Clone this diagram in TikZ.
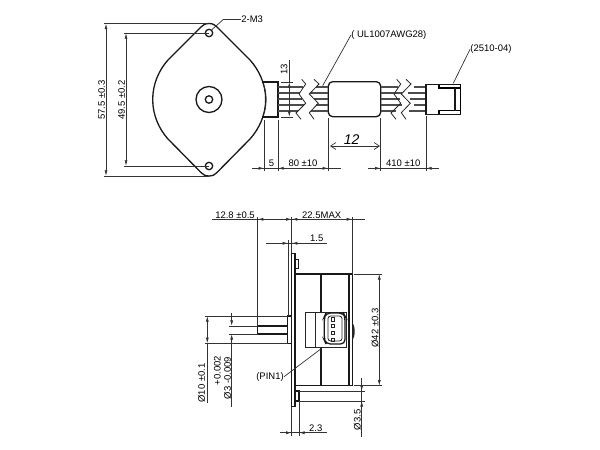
\documentclass[tikz,border=0pt]{standalone}
\usepackage{fontspec}
\usetikzlibrary{arrows.meta}
\setmainfont{Liberation Sans}
\tikzset{
	part/.style={line width=0.75pt,black!90},
	thin part/.style={line width=0.45pt,black!85},
	wire/.style={line width=0.8pt,black!70},
	dimline/.style={line width=0.4pt,black!80},
	dimarrow/.style={dimline,>={Latex[length=3.2pt,width=1.7pt]},<->},
	dimarrowin/.style={dimline,>={Latex[length=3.2pt,width=1.7pt]},->},
	dimtext/.style={font=\fontsize{5.4}{6}\selectfont,inner sep=0pt,text=black},
	dimtextv/.style={dimtext,rotate=90}
}
\begin{document}
\begin{tikzpicture}[x=0.02cm,y=-0.02cm]
	\useasboundingbox (0,0) rectangle (600,450);
	\fill[white] (0,0) rectangle (600,450);
	% front view
	\coordinate (C) at (209,99.5);
	\coordinate (H1) at (209,33);
	\coordinate (H2) at (209,166);
	\draw[part] (209,23.5) .. controls (213,23.5) and (215,25) .. (217,27) -- (250,60)
		.. controls (259,70) and (265.7,84) .. (265.7,99.5) .. controls (265.7,115) and (259,129) .. (250,139)
		-- (217,172.5) .. controls (215,174.5) and (213,176) .. (209,176) .. controls (205,176) and (203,174.5) .. (201,172.5)
		-- (168,139) .. controls (159,129) and (152.7,115) .. (152.7,99.5) .. controls (152.7,84) and (159,70) .. (168,60)
		-- (201,27) .. controls (203,25) and (205,23.5) .. (209,23.5);
	\foreach \point in {C,H1,H2} \draw[part] (\point) circle (3.7);
	\draw[part] (C) circle (13);
	\draw[thin part] (263,83) .. controls (267,93) and (267,106) .. (263,116);
	% wires and connector
	\draw[part] (262.5,82) -- (278,82) -- (278,117) -- (262.5,117);
	\draw[part,rounded corners=2.5pt] (328.3,81.7) rectangle (380.7,116.7);
	\foreach \y/\a/\b/\c/\d in {87/303.5/316/398/414, 93/300/310.5/402/408, 99/302.5/314/400/410, 105/304/316/402.5/414.5, 111/298/311/396/409}{
		\draw[wire] (278,\y) -- (\a,\y);
		\draw[wire] (\b,\y) -- (328.3,\y);
		\draw[wire] (380.7,\y) -- (\c,\y);
		\draw[wire] (\d,\y) -- (426,\y);
	}
	\foreach \dx/\dxx in {0/0,95/92}{
		\draw[thin part] (301.7+\dx,79.3) -- (305.7+\dx,84) -- (299+\dx,94) -- (305.7+\dx,103.3) -- (296+\dx,113) -- (301+\dx,119.3);
		\draw[thin part] (314+\dxx,79.3) -- (319+\dxx,84) -- (309.3+\dxx,94) -- (318.3+\dxx,103.3) -- (309.3+\dxx,112.7) -- (314+\dxx,119.3);
	}
	\draw[part] (426,84.3) rectangle (460.5,114.3);
	\draw[line width=1pt] (460.5,84.3) -- (460.5,114.3);
	\draw[line width=1pt] (439,84.5) -- (439,88) -- (460,88) (439,114) -- (439,110.5) -- (460,110.5);
	\draw[part] (455,88) -- (455,110.5);
	% front view dimensions
	\draw[dimline] (104,23.5) -- (209,23.5) (104,176) -- (209,176);
	\draw[dimline] (124,33) -- (209,33) (124,166) -- (209,166);
	\draw[dimarrow] (106,23.5) -- (106,176);
	\draw[dimarrow] (126,33) -- (126,166);
	\node[dimtextv] (t575) at (101.5,100) {57.5 ±0.3};
	\node[dimtextv] (t495) at (121.5,100) {49.5 ±0.2};
	\node[dimtext,anchor=west] (tm3) at (241,19.5) {2-M3};
	\draw[dimline] (211.5,30) -- (223.3,19.5) -- (tm3.west);
	\draw[dimline] (281,82) -- (293,82) (281,117) -- (293,117);
	\draw[dimarrow] (289.3,82) -- (289.3,117);
	\draw[dimline] (289.3,60) -- (289.3,82);
	\node[dimtextv] (t13) at (284,69) {13};
	\foreach \x/\y in {264.3/120,278/120,328.3/118,380.7/118,426/116}
		\draw[dimline] (\x,\y) -- (\x,171);
	\draw[dimline] (252,168.3) -- (341,168.3) (368,168.3) -- (439,168.3);
	\draw[dimarrowin] (254,168.3) -- (264.3,168.3);
	\draw[dimarrowin] (290,168.3) -- (278,168.3);
	\draw[dimarrowin] (316,168.3) -- (328.3,168.3);
	\draw[dimarrowin] (370,168.3) -- (380.7,168.3);
	\draw[dimarrowin] (438,168.3) -- (426,168.3);
	\node[dimtext] (t5) at (271.5,163) {5};
	\node[dimtext] (t80) at (303,163) {80 ±10};
	\node[dimtext] (t410) at (403.3,163) {410 ±10};
	\draw[dimline,<->,>={Straight Barb[length=3pt,width=4pt]}] (330,146) -- (380,146);
	\node[dimtext,font=\fontsize{8}{10}\itshape\selectfont] (t12) at (351.7,140) {12};
	\node[dimtext,anchor=west] (tul) at (351,35) {( UL1007AWG28)};
	\draw[dimline] (tul.west) -- (322.7,85.7);
	\node[dimtext,anchor=west] (t2510) at (470,49.3) {(2510-04)};
	\draw[dimline] (t2510.west) -- (453.3,83.3);
	% side view
	\draw[part,fill=white] (291.7,253.3) rectangle (295,406.7);
	\draw[part] (295,274) rectangle (352.3,385.7);
	\draw[part] (349,274) -- (349,385.7);
	\draw[part] (321,274) -- (321,312.3) (321,347.3) -- (321,385.7);
	\draw[part] (295,259.3) -| (298.5,268.3) -- (295,268.3);
	\draw[part] (295,391) -| (299,401) -- (295,401);
	\fill[black!85] (352.3,322.7) .. controls (355.5,326) and (355.5,337) .. (352.3,340) -- cycle;
	\draw[thin part] (305.7,312.3) rectangle (346,347.3);
	\draw[thin part] (315,312.3) -- (315,347.3);
	\draw[part,rounded corners=2.5pt,fill=white] (326,313) -- (343.5,313) -- (345,316) -- (345,344) -- (326,344) -- (324.3,340) -- (324.3,317) -- cycle;
	\draw[thin part,rounded corners=1.5pt] (328,316) rectangle (342,341);
	\foreach \y in {319.3,326,332.7,340} \draw[thin part] (331,\y-1.7) rectangle (334.5,\y+1.7);
	\draw[part] (287.7,316) rectangle (291.7,343.3);
	\draw[part] (287.7,326) -- (257.7,326) -- (257.7,334) -- (287.7,334);
	% side view dimensions
	\draw[dimline] (229.3,326) -- (257.7,326) (229.3,334) -- (257.7,334);
	\draw[dimline] (205,316) -- (287.7,316) (205,343.3) -- (287.7,343.3);
	\draw[dimline] (207.3,343.3) -- (207.3,403);
	\draw[dimarrow] (207.3,316) -- (207.3,343.3);
	\draw[dimarrowin] (231.7,313) -- (231.7,326);
	\draw[dimarrowin] (231.7,406.7) -- (231.7,334);
	\node[dimtextv] (t10) at (201.7,383) {Ø10 ±0.1};
	\node[dimtextv] (t002) at (217.3,370.7) {+0.002};
	\node[dimtextv] (t009) at (227.5,378) {Ø3 -0.009};
	\draw[dimline] (257.7,217) -- (257.7,326);
	\draw[dimline] (291.7,217) -- (291.7,253.3) (352.3,217) -- (352.3,274);
	\draw[dimline] (288.3,240) -- (288.3,316);
	\draw[dimline] (211.7,219.3) -- (365,219.3);
	\draw[dimarrow] (257.7,219.3) -- (291.7,219.3);
	\draw[dimarrow] (291.7,219.3) -- (352.3,219.3);
	\node[dimtext] (t128) at (235,215) {12.8 ±0.5};
	\node[dimtext] (t225) at (321.7,215) {22.5MAX};
	\draw[dimline] (266,243.3) -- (326.7,243.3);
	\draw[dimarrowin] (276,243.3) -- (288.3,243.3);
	\draw[dimarrowin] (303,243.3) -- (291.7,243.3);
	\node[dimtext] (t15) at (316.7,238) {1.5};
	\draw[dimline] (354,274) -- (382,274) (354,385.7) -- (382,385.7);
	\draw[dimarrow] (379.3,274) -- (379.3,385.7);
	\node[dimtextv] (t42) at (375,328) {Ø42 ±0.3};
	\draw[dimline] (299,391) -- (365,391) (299,401) -- (365,401);
	\draw[dimline] (361.7,378) -- (361.7,436.7);
	\draw[dimarrowin] (361.7,380) -- (361.7,391);
	\draw[dimarrowin] (361.7,412) -- (361.7,401);
	\node[dimtextv] (t35) at (357.3,420) {Ø3.5};
	\draw[dimline] (291.7,407) -- (291.7,436) (299,402) -- (299,436);
	\draw[dimline] (280,432.7) -- (326.7,432.7);
	\draw[dimarrowin] (281,432.7) -- (291.7,432.7);
	\draw[dimarrowin] (310,432.7) -- (299,432.7);
	\node[dimtext] (t23) at (315.7,428) {2.3};
	\node[dimtext] (tpin) at (270,376.7) {(PIN1)};
	\draw[dimline] (tpin.east) -- (321.7,348.3);
\end{tikzpicture}
\end{document}
